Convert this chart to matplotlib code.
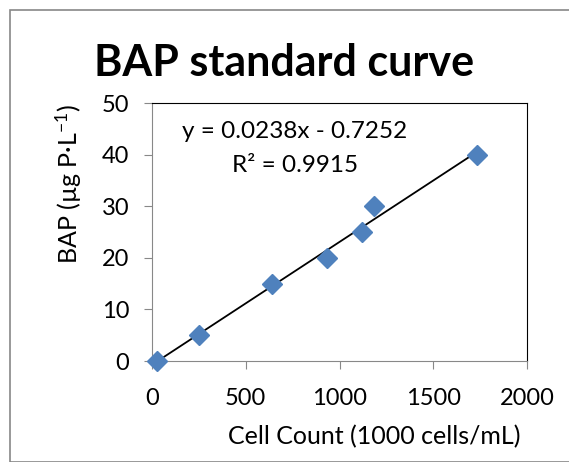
import numpy as np
import matplotlib.pyplot as plt
from matplotlib.patches import Rectangle

plt.rcParams['font.family'] = ['Lato', 'DejaVu Sans']
plt.rcParams['mathtext.default'] = 'regular'

cells = [27, 248, 642, 934, 1122, 1186, 1734]
bap = [0, 5, 15, 20, 25, 30, 40]
slope = 0.0238
intercept = -0.7252
r2 = 0.9915

fig = plt.figure(figsize=(5.69, 4.62), dpi=100)
W, H = 569, 462
ax = fig.add_axes([152 / W, 1 - 361 / H, (527 - 152) / W, (361 - 103) / H])

# outer chart frame
fig.patches.append(Rectangle((10 / W, 0), 1, 1 - 10 / H, transform=fig.transFigure,
                             fill=False, edgecolor='#888888', linewidth=1.2))

xl = np.array([cells[0], cells[-1]])
ax.plot(xl, slope * xl + intercept, color='black', linewidth=1.3, zorder=2)
ax.plot(cells, bap, linestyle='none', marker='D', markersize=10.5,
        color='#4F81BD', markeredgecolor='#4F81BD', zorder=3, clip_on=False)

ax.set_xlim(0, 2000)
ax.set_ylim(0, 50)
ax.set_xticks([0, 500, 1000, 1500, 2000])
ax.set_yticks([0, 10, 20, 30, 40, 50])
ax.tick_params(labelsize=17, length=5.5, color='#888888', direction='out')
ax.tick_params(axis='x', pad=14)
ax.tick_params(axis='y', pad=11)
for s in ['left', 'bottom']:
    ax.spines[s].set_color('#888888')
for s in ['top', 'right']:
    ax.spines[s].set_color('black')

ax.set_xlabel('Cell Count (1000 cells/mL)', fontsize=18)
ax.set_ylabel('BAP (µg P·L$^{-1}$)', fontsize=18)
ax.xaxis.set_label_coords(0.593, -0.25)
ax.yaxis.set_label_coords(-0.18, 0.685)

fig.text(284 / W, 1 - 63 / H, 'BAP standard curve', fontsize=31, fontweight='bold',
         ha='center', va='center')

ax.text((295 - 152) / 375, (361 - 132) / 258, 'y = %.4fx - %.4f' % (slope, -intercept),
        transform=ax.transAxes, fontsize=17.5, ha='center', va='center')
ax.text((295 - 152) / 375, (361 - 166) / 258, 'R² = %.4f' % r2, transform=ax.transAxes,
        fontsize=17.5, ha='center', va='center')

fig.savefig('out.png', dpi=100)
